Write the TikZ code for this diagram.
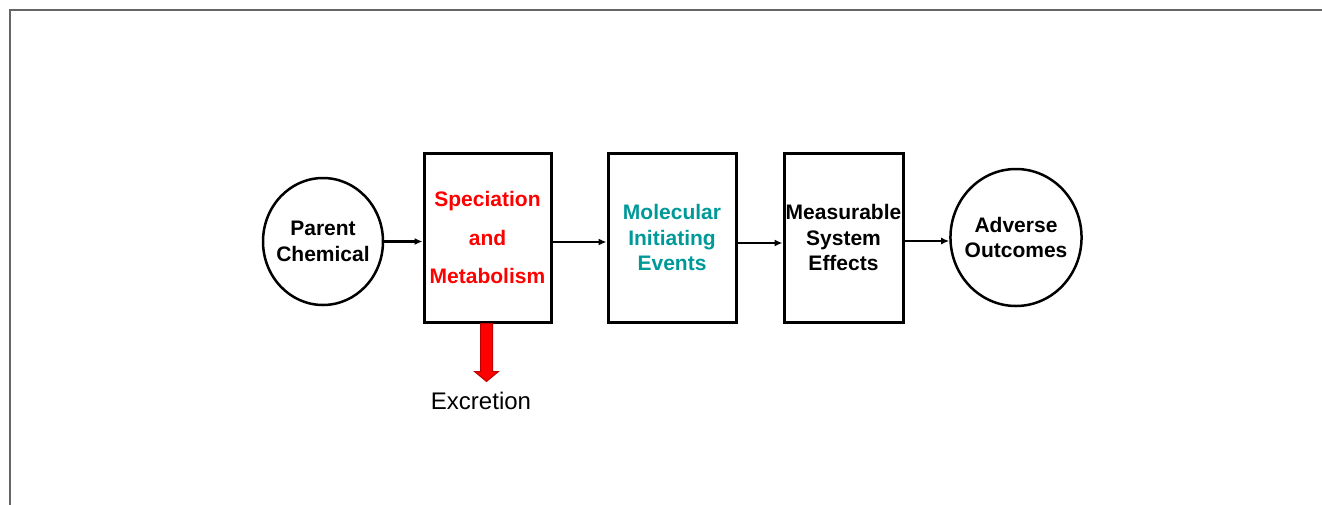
\documentclass[tikz,border=0pt]{standalone}
\usepackage{fontspec}
\setmainfont{Liberation Sans}
\usetikzlibrary{arrows.meta,shapes.geometric}
\definecolor{mieteal}{RGB}{0,153,153}
\definecolor{framegray}{RGB}{102,102,102}
\definecolor{excrred}{RGB}{190,0,0}
\begin{document}
\begin{tikzpicture}[x=1pt, y=-1pt,
  stage/.style={rectangle, draw, line width=3pt, minimum height=169pt, inner sep=1pt, align=center, font=\fontsize{21}{25.5}\selectfont\bfseries},
  outcome/.style={ellipse, draw, line width=2.5pt, inner sep=-5pt, align=center, font=\fontsize{21}{25.5}\selectfont\bfseries},
  link/.style={-{Latex[length=8pt,width=7pt]}, line width=2.3pt}]
  \useasboundingbox (0,0) rectangle (1322,504);
  \draw[framegray, line width=2pt] (10,505) -- (10,10) -- (1323,10);

  \node[outcome, minimum width=120pt, minimum height=127pt] (pc) at (323,241.5) {Parent\\Chemical};
  \node[stage, minimum width=127pt, text=red, font=\fontsize{21}{38.5}\selectfont\bfseries] (spec) at (487.5,237.5) {\rule{0pt}{8pt}Speciation\\and\\Metabolism};
  \node[stage, minimum width=128pt, text=mieteal] (mie) at (672,237.5) {Molecular\\Initiating\\Events};
  \node[stage, minimum width=119pt] (mse) at (843.5,237.5) {Measurable\\System\\Effects};
  \node[outcome, minimum width=129pt, minimum height=137pt] (ao) at (1016,237.5) {Adverse\\Outcomes};

  \draw[link] (pc.east) -- (spec.west |- pc.east);
  \draw[link] ([yshift=-4.5pt]spec.east) -- ([yshift=-4.5pt]mie.west);
  \draw[link] ([yshift=-5.5pt]mie.east) -- ([yshift=-5.5pt]mse.west);
  \draw[link] ([yshift=-3.5pt]mse.east) -- ([yshift=-3.5pt]ao.west);

  % excretion arrow
  \draw[fill=red, draw=excrred, line width=1pt] ([xshift=-7pt]spec.south) -- ++(0,48) -- ++(-6,0) -- ++(12,10) -- ++(12,-10) -- ++(-6,0) -- ++(0,-48) -- cycle;
  \node[font=\fontsize{24}{28}\selectfont] (excr) at (481,401) {Excretion};
\end{tikzpicture}
\end{document}
